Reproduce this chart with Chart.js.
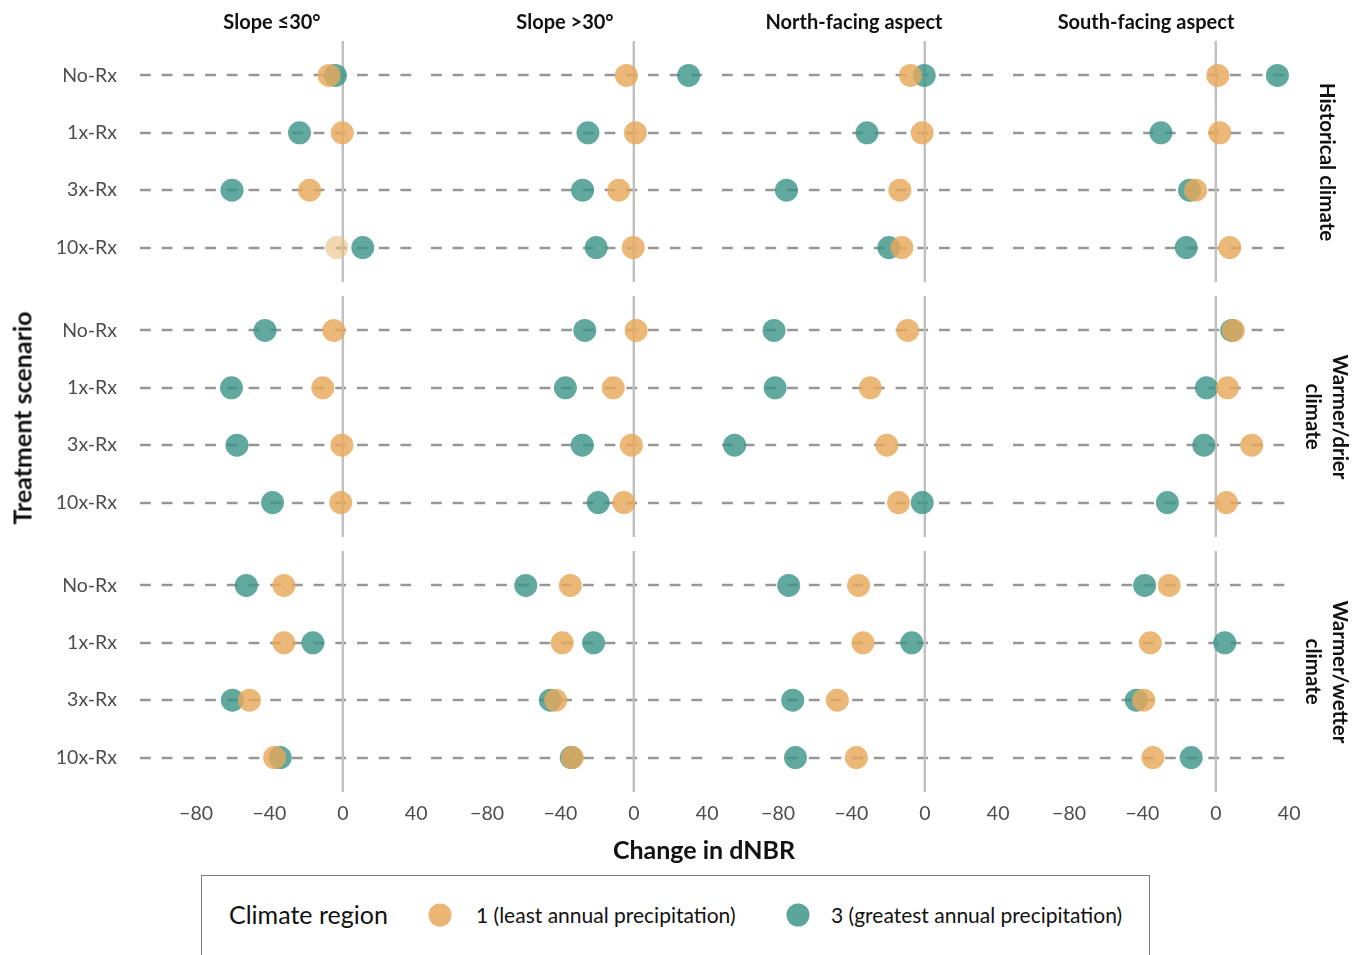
<!DOCTYPE html>
<html>
<head>
<meta charset="utf-8">
<script src="https://cdn.jsdelivr.net/npm/chart.js@4.4.1/dist/chart.umd.min.js"></script>
<style>
  html, body { margin: 0; padding: 0; background: #ffffff; }
  body { position: relative; width: 1362px; height: 955px; overflow: hidden; font-family: Lato, "Open Sans", sans-serif; color: #111; }
  canvas { position: absolute; }
  .txt { position: absolute; white-space: nowrap; line-height: 1; }
  .facet { font-weight: 700; font-size: 20px; transform: translate(-50%, -50%); }
  .strip { font-weight: 700; font-size: 20.5px; writing-mode: vertical-rl; line-height: 27px; text-align: center; transform: translate(-50%, -50%); }
  .axis-title { font-weight: 700; font-size: 25px; transform: translate(-50%, -50%); }
  #legend { position: absolute; left: 201px; top: 875px; width: 949px; height: 110px; border: 1.5px solid #7a7a7a; box-sizing: border-box; }
  .key { position: absolute; width: 23px; height: 23px; border-radius: 50%; transform: translate(-50%, -50%); }
</style>
</head>
<body>
<div id="legend"></div>
<script>
// Treatment scenarios (rows inside each panel), terrain classes (panel columns),
// climate scenarios (panel rows) and axis ticks.
const treatments = ['No-Rx', '1x-Rx', '3x-Rx', '10x-Rx'];
const terrainClasses = ['Slope ≤30°', 'Slope >30°', 'North-facing aspect', 'South-facing aspect'];
const climateScenarios = [['Historical climate'], ['Warmer/drier', 'climate'], ['Warmer/wetter', 'climate']];
const xTickValues = [-80, -40, 0, 40];
const regionNames = ['1 (least annual precipitation)', '3 (greatest annual precipitation)'];

// Change in dNBR: one inner array per terrain class, values in treatment order.
const region1Historical = [
  [-7.5, -0.3, -18.1, -3.3],
  [-4.0, 0.9, -8.2, -0.3],
  [-7.8, -1.4, -13.6, -12.5],
  [1.1, 2.2, -11.0, 7.6]
];
const region3Historical = [
  [-4.0, -23.6, -60.4, 10.9],
  [29.9, -25.0, -27.9, -20.5],
  [-0.3, -31.5, -75.4, -19.6],
  [33.6, -29.9, -14.3, -16.1]
];
const region1WarmerDrier = [
  [-4.9, -10.9, -0.5, -1.1],
  [1.3, -11.2, -1.3, -5.4],
  [-9.3, -29.7, -20.7, -14.3],
  [9.6, 6.4, 19.6, 5.8]
];
const region3WarmerDrier = [
  [-42.4, -60.7, -57.7, -38.3],
  [-26.7, -37.3, -28.1, -19.4],
  [-82.2, -81.6, -103.7, -1.4],
  [8.7, -5.1, -6.5, -26.4]
];
const region1WarmerWetter = [
  [-32.1, -32.1, -50.9, -37.2],
  [-34.6, -39.0, -42.6, -33.5],
  [-36.1, -33.7, -47.7, -37.3],
  [-25.4, -35.7, -39.3, -34.3]
];
const region3WarmerWetter = [
  [-52.6, -16.3, -60.2, -34.1],
  [-58.9, -21.9, -45.5, -34.1],
  [-74.2, -7.1, -72.0, -70.5],
  [-38.8, 4.9, -43.3, -13.4]
];

const scenarioSeries = [
  [region1Historical, region3Historical],
  [region1WarmerDrier, region3WarmerDrier],
  [region1WarmerWetter, region3WarmerWetter]
];

// Styling
const regionColors = ['rgba(231,168,90,0.82)', 'rgba(58,148,134,0.8)'];
const regionSwatch = ['#ebb573', '#5aa69a'];
const paleMark = { scenario: 0, terrain: 0, region: 0, treatment: 3, color: 'rgba(236,190,130,0.62)' };
const tickFont = { family: 'Lato, "Open Sans", sans-serif', size: 19.5 };

// Panel geometry
const PANEL_LEFT = 140, PANEL_TOP = 41, PANEL_W = 277, PANEL_H = 241, GAP = 14;
const Y_AXIS_W = 100, X_AXIS_H = 45, MARGIN = 20;

// Shared x range: data extent widened by 5% on each side
const allValues = scenarioSeries.flat(3);
const dataMin = Math.min(...allValues), dataMax = Math.max(...allValues);
const pad = (dataMax - dataMin) * 0.05;
const X_MIN = dataMin - pad, X_MAX = dataMax + pad;

const fmtTick = v => (v < 0 ? '\u2212' + Math.abs(v) : String(v));

// Dashed guide per treatment and a solid reference line at zero change
const referenceLines = {
  id: 'referenceLines',
  beforeDatasetsDraw(chart) {
    const { ctx, chartArea: a, scales: { x, y } } = chart;
    ctx.save();
    ctx.strokeStyle = '#979797';
    ctx.lineWidth = 2.6;
    ctx.setLineDash([10.8, 10.9]);
    treatments.forEach((_, i) => {
      const py = Math.round(y.getPixelForValue(i + 1));
      ctx.beginPath();
      ctx.moveTo(a.left, py);
      ctx.lineTo(a.right, py);
      ctx.stroke();
    });
    ctx.setLineDash([]);
    ctx.strokeStyle = '#c0c0c0';
    ctx.lineWidth = 2.4;
    const px = x.getPixelForValue(0);
    ctx.beginPath();
    ctx.moveTo(px, a.top);
    ctx.lineTo(px, a.bottom);
    ctx.stroke();
    ctx.restore();
  }
};

function makePanel(r, c) {
  const showY = c === 0, showX = r === climateScenarios.length - 1;
  const canvas = document.createElement('canvas');
  const w = PANEL_W + 2 * MARGIN + (showY ? Y_AXIS_W : 0);
  const h = PANEL_H + 2 * MARGIN + (showX ? X_AXIS_H : 0);
  canvas.width = w; canvas.height = h;
  canvas.style.width = w + 'px'; canvas.style.height = h + 'px';
  canvas.style.left = (PANEL_LEFT + c * (PANEL_W + GAP) - MARGIN - (showY ? Y_AXIS_W : 0)) + 'px';
  canvas.style.top = (PANEL_TOP + r * (PANEL_H + GAP) - MARGIN) + 'px';
  document.body.appendChild(canvas);

  const datasets = scenarioSeries[r].map((regionSeries, k) => ({
    label: regionNames[k],
    data: treatments.map((t, i) => ({ x: regionSeries[c][i], y: i + 1 })),
    backgroundColor: treatments.map((t, i) =>
      (paleMark.scenario === r && paleMark.terrain === c && paleMark.region === k && paleMark.treatment === i)
        ? paleMark.color : regionColors[k]),
    borderWidth: 0,
    pointRadius: 11.5,
    pointHoverRadius: 11.5,
    clip: false
  }));

  new Chart(canvas, {
    type: 'scatter',
    data: { datasets },
    options: {
      responsive: false,
      animation: false,
      devicePixelRatio: 1,
      events: [],
      layout: { padding: MARGIN },
      plugins: { legend: { display: false }, tooltip: { enabled: false } },
      scales: {
        x: {
          type: 'linear',
          min: X_MIN, max: X_MAX,
          display: showX,
          grid: { display: false, drawTicks: false },
          border: { display: false },
          ticks: {
            autoSkip: false, maxRotation: 0, padding: 10,
            color: '#4d4d4d',
            font: tickFont,
            callback: v => fmtTick(v)
          },
          afterBuildTicks: s => { s.ticks = xTickValues.map(v => ({ value: v })); },
          afterFit: s => {
            s.paddingLeft = 0; s.paddingRight = 0;
            s.height = showX ? X_AXIS_H : 0;
          }
        },
        y: {
          type: 'linear',
          min: 0.4, max: 4.6,
          reverse: true,
          display: showY,
          grid: { display: false, drawTicks: false },
          border: { display: false },
          ticks: {
            padding: 23,
            color: '#4d4d4d',
            font: tickFont,
            callback: v => treatments[v - 1]
          },
          afterBuildTicks: s => { s.ticks = treatments.map((t, i) => ({ value: i + 1 })); },
          afterFit: s => {
            s.paddingTop = 0; s.paddingBottom = 0;
            s.width = showY ? Y_AXIS_W : 0;
          }
        }
      }
    },
    plugins: [referenceLines]
  });
}

climateScenarios.forEach((_, r) => terrainClasses.forEach((_, c) => makePanel(r, c)));

// Text: facet titles, strip labels, axis titles
function addText(cls, text, x, y, extra) {
  const d = document.createElement('div');
  d.className = 'txt ' + cls;
  d.innerHTML = text;
  d.style.left = x + 'px';
  d.style.top = y + 'px';
  if (extra) Object.assign(d.style, extra);
  document.body.appendChild(d);
  return d;
}
const facetCenters = [272, 565, 854, 1146];
terrainClasses.forEach((t, c) => addText('facet', t, facetCenters[c], 21));
climateScenarios.forEach((lines, r) => {
  const cy = PANEL_TOP + r * (PANEL_H + GAP) + PANEL_H / 2;
  addText('strip', lines.join('<br>'), 1327, cy);
});
addText('axis-title', 'Treatment scenario', 22, 418, { transform: 'translate(-50%, -50%) rotate(-90deg)' });
addText('axis-title', 'Change in dNBR', 704, 849);

// Legend
const legend = document.getElementById('legend');
function legendItem(text, x, y, size) {
  const d = document.createElement('div');
  d.className = 'txt';
  d.textContent = text;
  d.style.left = x + 'px';
  d.style.top = y + 'px';
  d.style.fontSize = size + 'px';
  d.style.transform = 'translateY(-50%)';
  legend.appendChild(d);
}
legendItem('Climate region', 27, 38, 25);
regionNames.forEach((name, k) => {
  const key = document.createElement('div');
  key.className = 'key';
  key.style.background = regionSwatch[k];
  key.style.left = (k === 0 ? 238 : 596) + 'px';
  key.style.top = '39px';
  legend.appendChild(key);
  legendItem(name, k === 0 ? 274 : 629, 38, 21);
});
</script>
</body>
</html>
